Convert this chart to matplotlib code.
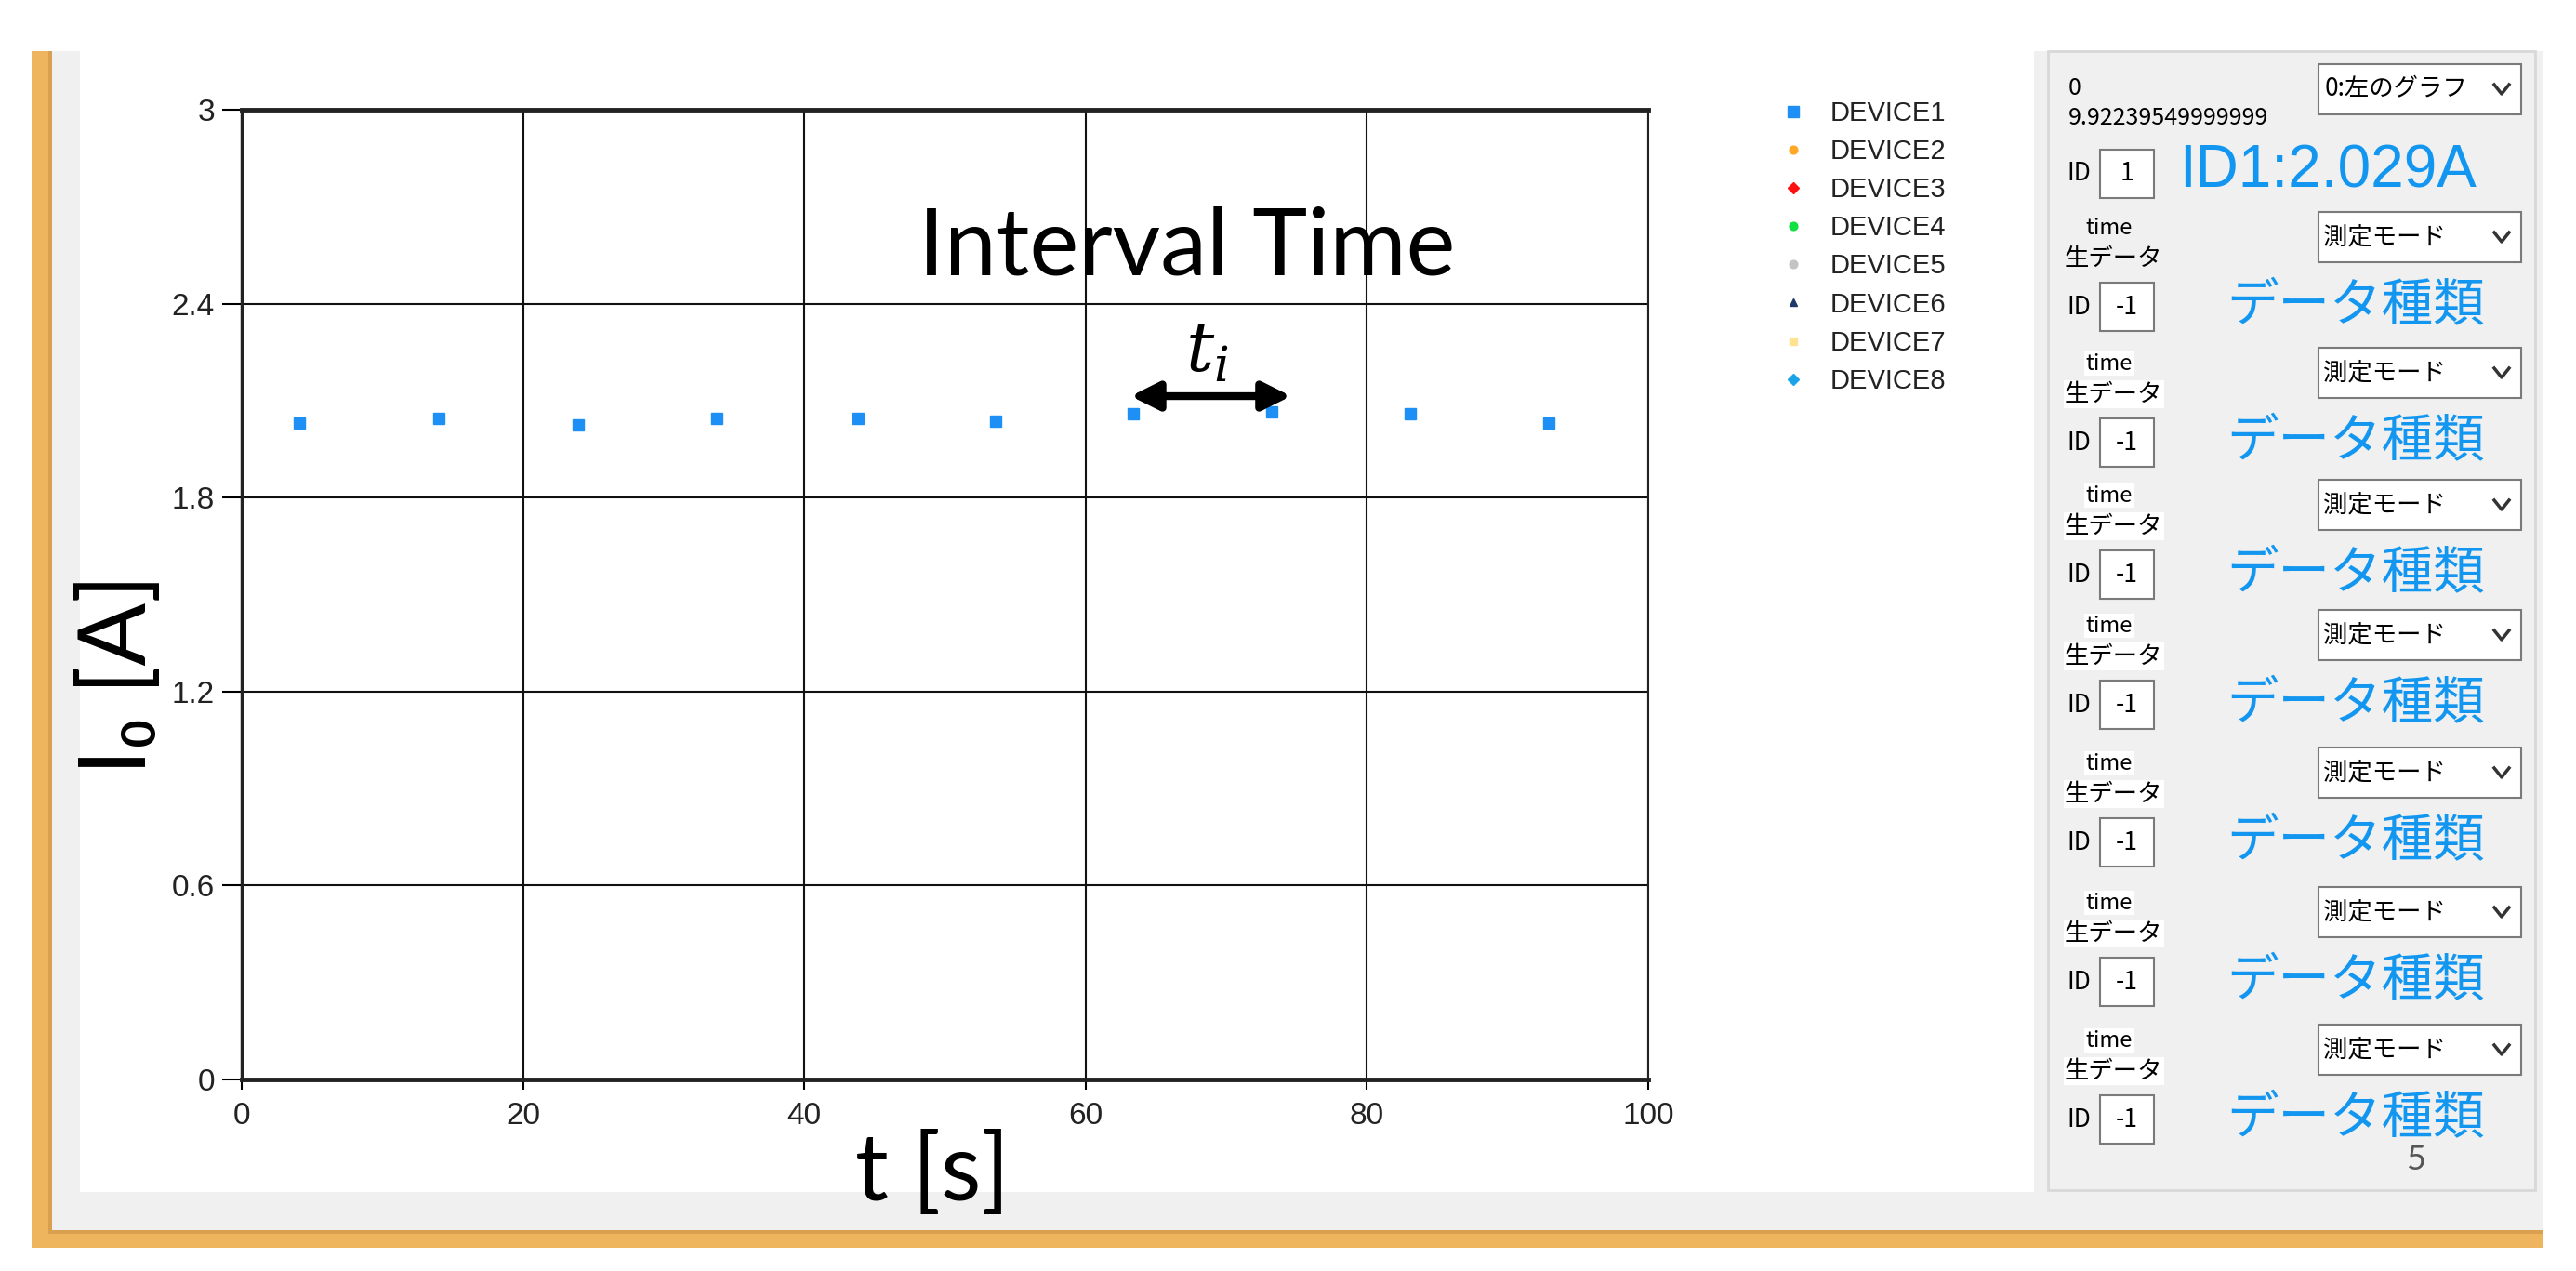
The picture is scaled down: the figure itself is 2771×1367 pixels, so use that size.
import matplotlib
matplotlib.use('Agg')
import matplotlib.pyplot as plt
from matplotlib.patches import Rectangle
from matplotlib.lines import Line2D

# measured points of DEVICE1 (time in s, current in A)
t_values = [4.1, 14.0, 23.9, 33.8, 43.8, 53.6, 63.4, 73.2, 83.1, 92.9]
current_values = [2.030, 2.045, 2.026, 2.045, 2.045, 2.036, 2.059, 2.064, 2.059, 2.030]

device_names = ["DEVICE1", "DEVICE2", "DEVICE3", "DEVICE4",
                "DEVICE5", "DEVICE6", "DEVICE7", "DEVICE8"]
device_markers = ["s", "o", "D", "o", "o", "^", "s", "D"]
device_colors = ["#1E8FF5", "#FFA826", "#FF1010", "#10E040",
                 "#C4C4C4", "#1F3868", "#FFE392", "#18A4E6"]

x_ticks = [0, 20, 40, 60, 80, 100]
y_ticks = [0, 0.6, 1.2, 1.8, 2.4, 3]
y_tick_labels = ["0", "0.6", "1.2", "1.8", "2.4", "3"]

interval_value = "9.92239549999999"
id_text = "ID1:2.029A"

NARROW = ["Liberation Sans", "DejaVu Sans"]
CAL = ["Lato", "DejaVu Sans"]
JP = ["Noto Sans CJK JP", "DejaVu Sans"]
BLUE = "#1296F0"

W, H = 2771, 1367
fig = plt.figure(figsize=(W / 100, H / 100), dpi=100)
fig.patch.set_facecolor("white")

# background axes in pixel coordinates (y grows downwards)
bg = fig.add_axes([0, 0, 1, 1], zorder=0)
bg.set_xlim(0, W)
bg.set_ylim(H, 0)
bg.axis("off")


def rect(x0, y0, x1, y1, fc, ec="none", lw=0, z=1):
    bg.add_patch(Rectangle((x0, y0), x1 - x0, y1 - y0, facecolor=fc,
                           edgecolor=ec, linewidth=lw, zorder=z))


def chevron(cx, cy):
    bg.add_line(Line2D([cx - 8, cx, cx + 8], [cy - 5, cy + 5, cy - 5],
                       color="#333333", lw=2.5, zorder=5))


# window frame
rect(56, 55, 2735, 1327, "#F0F0F0")
rect(34, 55, 56, 1342, "#EEB55E")
rect(34, 1327, 2735, 1342, "#EEB55E")
rect(52, 55, 56, 1327, "#D9A050", z=2)
rect(56, 1323, 2735, 1327, "#D9A050", z=2)
rect(86, 55, 2188, 1282, "white")

# right control panel
rect(2203, 55, 2727, 1280, "#F0F0F0", ec="#D8D8D8", lw=2, z=2)

bg.text(2225, 95, "0", family=JP, fontsize=18, va="center", zorder=5)
bg.text(2225, 127, interval_value, family=JP, fontsize=18, va="center", zorder=5)
rect(2494, 69, 2712, 123, "white", ec="#7A7A7A", lw=1.5, z=3)
bg.text(2501, 96, "0:左のグラフ", family=JP, fontsize=19, va="center", zorder=5)
chevron(2691, 96)

bg.text(2223, 186, "ID", family=JP, fontsize=19, va="center", zorder=5)
rect(2259, 161, 2317, 213, "white", ec="#7A7A7A", lw=1.5, z=3)
bg.text(2288, 187, "1", family=JP, fontsize=19, ha="center", va="center", zorder=5)
bg.text(2344, 185, id_text, family=NARROW, fontsize=46, color=BLUE,
        va="center", zorder=5)

row_centers = [330, 476, 618, 758, 906, 1056, 1204]
for k, yc in enumerate(row_centers):
    d = yc - 102
    wb = None if k == 0 else dict(facecolor="white", edgecolor="none", pad=1)
    bg.text(2269, d + 17, "time", family=JP, fontsize=17, ha="center",
            va="center", zorder=5, bbox=wb)
    bg.text(2221, d + 50, "生データ", family=JP, fontsize=19, va="center",
            zorder=5, bbox=wb)
    rect(2494, d, 2712, d + 54, "white", ec="#7A7A7A", lw=1.5, z=3)
    bg.text(2499, d + 27, "測定モード", family=JP, fontsize=19, va="center", zorder=5)
    chevron(2691, d + 27)
    bg.text(2223, yc, "ID", family=JP, fontsize=19, va="center", zorder=5)
    rect(2259, yc - 26, 2317, yc + 26, "white", ec="#7A7A7A", lw=1.5, z=3)
    bg.text(2288, yc, "-1", family=JP, fontsize=19, ha="center", va="center", zorder=5)
    bg.text(2395, yc, "データ種類", family=JP, fontsize=40, color=BLUE,
            va="center", zorder=5)

bg.text(2599, 1247, "5", family=CAL, fontsize=26, color="#555555",
        ha="center", va="center", zorder=5)

# axis titles drawn over the frame
bg.text(1003, 1262, "t [s]", family=CAL, fontsize=72, ha="center",
        va="center", zorder=6)
bg.text(128, 725, "I₀ [A]", family=CAL, fontsize=72, rotation=90,
        ha="center", va="center", zorder=6)

# main chart
ax = fig.add_axes([260 / W, (H - 1161) / H, 1513 / W, 1043 / H], zorder=1)
ax.set_facecolor("white")
ax.plot(t_values, current_values, linestyle="none", marker=device_markers[0],
        ms=9, color=device_colors[0], label=device_names[0], zorder=4)
for name, mk, col in zip(device_names[1:], device_markers[1:], device_colors[1:]):
    ax.plot([], [], linestyle="none", marker=mk, ms=7, color=col, label=name)

ax.set_xlim(0, 100)
ax.set_ylim(0, 3)
ax.set_xticks(x_ticks)
ax.set_yticks(y_ticks)
ax.set_yticklabels(y_tick_labels)
ax.grid(True, color="#111111", lw=1.5)
ax.set_axisbelow(True)
for side, w in [("top", 3.5), ("bottom", 3.5), ("left", 2.5), ("right", 1.5)]:
    ax.spines[side].set_linewidth(w)
    ax.spines[side].set_color("#222222")
ax.tick_params(axis="x", length=8, width=1.5, pad=9, labelsize=24,
               labelcolor="#222222")
ax.tick_params(axis="y", length=15, width=1.5, pad=6, labelsize=24,
               labelcolor="#222222")
for lbl in ax.get_xticklabels() + ax.get_yticklabels():
    lbl.set_fontfamily(NARROW)

ax.text(67.2, 2.49, "Interval Time", family=CAL, fontsize=72,
        ha="center", va="baseline", zorder=5)
ax.annotate("", xy=(63.2, 2.114), xytext=(74.6, 2.114),
            arrowprops=dict(arrowstyle="<|-|>", color="black", lw=6,
                            mutation_scale=45, shrinkA=0, shrinkB=0), zorder=5)
ax.text(68.6, 2.25, r"$t_i$", fontsize=54, ha="center", va="center",
        math_fontfamily="dejavuserif", zorder=5)

leg = ax.legend(loc="upper left", bbox_to_anchor=(1914 / W, 1 - 108 / H),
                bbox_transform=fig.transFigure, frameon=False,
                handlelength=1.0, handletextpad=0.88, labelspacing=0.45,
                borderpad=0, borderaxespad=0, markerscale=0.9,
                prop={"family": NARROW, "size": 21})
for txt in leg.get_texts():
    txt.set_color("#222222")

fig.savefig("out.png", dpi=100, facecolor="white")
